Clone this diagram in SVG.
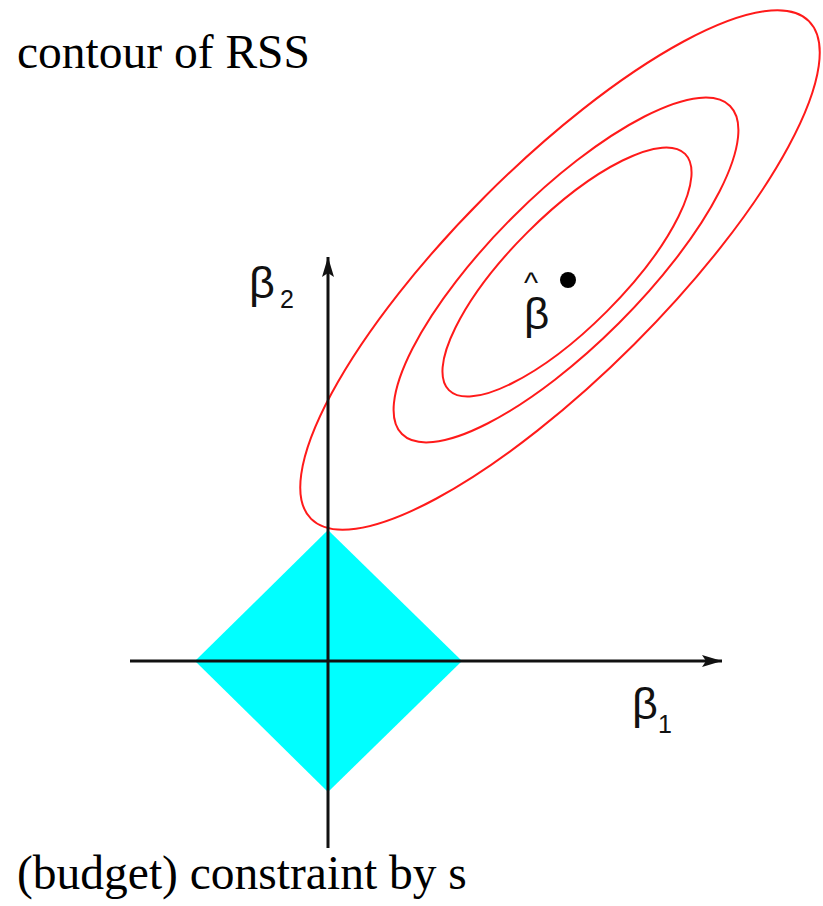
<svg xmlns="http://www.w3.org/2000/svg" width="823" height="906" viewBox="0 0 823 906">
<style>
.lbl{font-family:"Liberation Serif","Times New Roman",serif;font-size:47.5px;fill:#000}
.greek{font-family:"Liberation Sans",Arial,sans-serif;fill:#111}
.contour{fill:none;stroke:#ff1a1a;stroke-width:2}
.axis{stroke:#111;stroke-width:3;fill:none}
</style>
<defs>
<marker id="arr" markerWidth="22" markerHeight="14" refX="20" refY="7" orient="auto" markerUnits="userSpaceOnUse">
<path d="M0,1 L20,7 L0,13 L4,7 Z" fill="#111"/>
</marker>
</defs>
<rect width="823" height="906" fill="#fff"/>
<g id="constraint">
<polygon points="328,530 462,661 328,792 195,661" fill="#00ffff"/>
</g>
<g id="contours">
<ellipse class="contour" cx="560" cy="270" rx="352" ry="105" transform="rotate(-45 560 270)"/>
<ellipse class="contour" cx="566" cy="270" rx="232" ry="75" transform="rotate(-45 566 270)"/>
<ellipse class="contour" cx="567" cy="272" rx="167" ry="56" transform="rotate(-45 567 272)"/>
</g>
<g id="axes">
<line class="axis" x1="130" y1="661" x2="722" y2="661" marker-end="url(#arr)"/>
<line class="axis" x1="328" y1="848" x2="328" y2="257" marker-end="url(#arr)"/>
</g>
<g id="beta-hat">
<circle cx="568" cy="280" r="8" fill="#000"/>
<text class="greek" font-size="44"><tspan x="524" y="293" font-size="30">^</tspan><tspan x="524" y="329">β</tspan></text>
</g>
<g id="beta2-label">
<text class="greek" font-size="45"><tspan x="249" y="298">β</tspan><tspan x="280" y="308" font-size="25">2</tspan></text>
</g>
<g id="beta1-label">
<text class="greek" font-size="45"><tspan x="632" y="719">β</tspan><tspan x="658" y="733" font-size="25">1</tspan></text>
</g>
<g id="title">
<text class="lbl" x="17" y="68">contour of RSS</text>
</g>
<g id="caption">
<text class="lbl" x="17" y="889">(budget) constraint by s</text>
</g>
</svg>
